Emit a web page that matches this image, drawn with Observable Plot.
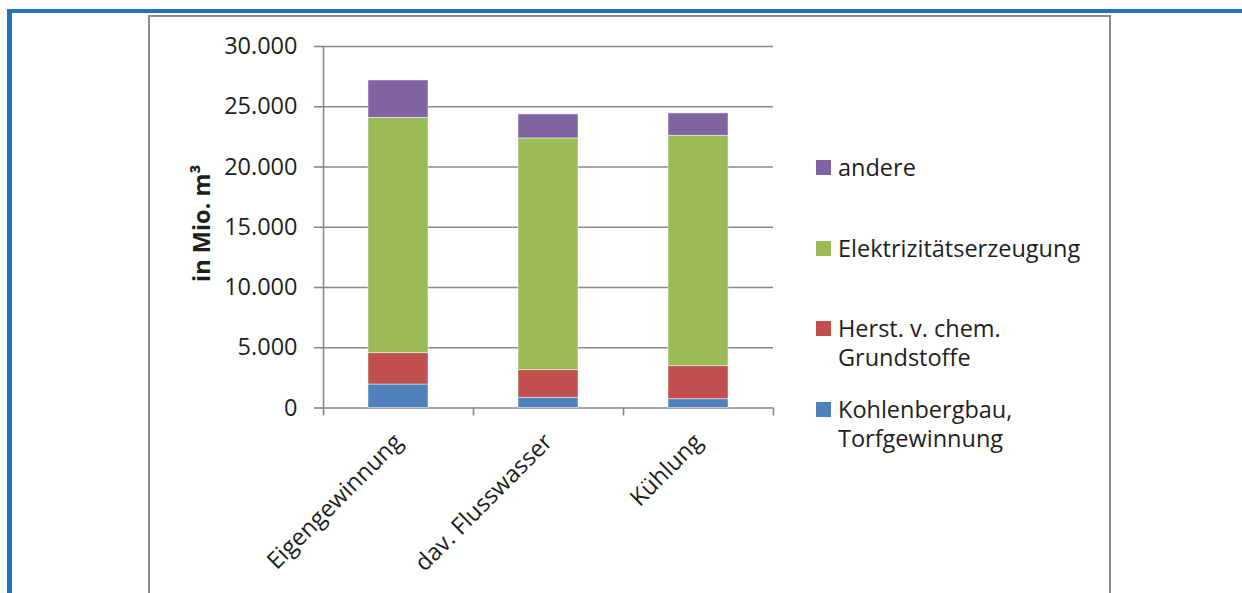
<!DOCTYPE html>
<html>
<head>
<meta charset="utf-8">
<script src="https://cdn.jsdelivr.net/npm/d3@7"></script>
<script src="https://cdn.jsdelivr.net/npm/@observablehq/plot@0.6"></script>
<style>
  html, body { margin: 0; padding: 0; background: #fff; overflow: hidden; }
  #wrap { position: relative; width: 1242px; height: 593px; font-family: "Open Sans", sans-serif; color: #1e1e1e; }
  #chart { position: absolute; left: 0; top: 0; }
  .blue { position: absolute; left: 7px; top: 9px; right: 0; bottom: 0; border-top: 4px solid #2672b6; border-left: 5px solid #2672b6; }
  .box { position: absolute; left: 148px; top: 15px; width: 959px; height: 580px; border: 2px solid #8c8c8c; border-bottom: none; }
  .legend { position: absolute; left: 816px; top: 0; font-size: 23.5px; line-height: 29px; }
  .item { position: absolute; left: 0; display: flex; align-items: flex-start; width: 300px; }
  .sw { width: 15px; height: 15px; margin-top: 7px; margin-right: 7px; flex: none; }
  .lbl { width: 265px; }
</style>
</head>
<body>
<div id="wrap">
  <div class="blue"></div>
  <div class="box"></div>
  <div id="chart"></div>
  <div class="legend" id="legend"></div>
</div>
<script>
// ---- data ----
const categories = ["Eigengewinnung", "dav. Flusswasser", "Kühlung"];
const series = ["Kohlenbergbau, Torfgewinnung", "Herst. v. chem. Grundstoffe", "Elektrizitätserzeugung", "andere"];
const kohle = [1950, 850, 730];
const chem = [2600, 2290, 2740];
const elektr = [19530, 19230, 19120];
const andere = [3100, 1990, 1860];
const colors = ["#4f81bd", "#c0504d", "#9bbb59", "#8064a2"];
const yTicks = [0, 5000, 10000, 15000, 20000, 25000, 30000];
const yLabel = "in Mio. m³";
const legendOrder = ["andere", "Elektrizitätserzeugung", "Herst. v. chem. Grundstoffe", "Kohlenbergbau, Torfgewinnung"];

const valuesBySeries = [kohle, chem, elektr, andere];
const rows = [];
categories.forEach((c, i) => {
  series.forEach((s, j) => rows.push({cat: c, i, series: s, value: valuesBySeries[j][i]}));
});

const de = d3.formatLocale({decimal: ",", thousands: ".", grouping: [3], currency: ["", " €"]});
const fmt = de.format(",");
const axisColor = "#888888";
const fs = 23.5;

const plot = Plot.plot({
  width: 1242,
  height: 593,
  marginLeft: 323,
  marginRight: 469,
  marginTop: 46,
  marginBottom: 185.5,
  style: {background: "transparent", fontFamily: "Open Sans, sans-serif", fontSize: fs + "px", color: "#1e1e1e"},
  x: {type: "linear", domain: [0, categories.length]},
  y: {domain: [0, 30000]},
  color: {domain: series, range: colors},
  marks: [
    Plot.ruleY(yTicks, {stroke: axisColor, strokeWidth: 1.6}),
    Plot.ruleX([0], {stroke: axisColor, strokeWidth: 1.6}),
    Plot.rectY(rows, Plot.stackY({order: series}, {
      x1: d => d.i + 0.3,
      x2: d => d.i + 0.7,
      y: "value",
      fill: "series",
      z: "series",
      stroke: "white",
      strokeOpacity: 0.6,
      strokeWidth: 0.8
    })),
    Plot.axisY({ticks: yTicks, tickFormat: fmt, tickSize: 9, tickPadding: 17, fontSize: fs, stroke: axisColor, strokeWidth: 1.6, fill: "#1e1e1e", label: null}),
    Plot.axisX({ticks: d3.range(categories.length + 1), tickFormat: () => "", tickSize: 8, stroke: axisColor, strokeWidth: 1.6, label: null}),
    Plot.axisX({ticks: categories.map((c, i) => i + 0.5), tickFormat: t => categories[Math.floor(t)], tickSize: 0, tickPadding: 30, tickRotate: -45, fontSize: fs, fill: "#1e1e1e", label: null}),
    Plot.text([yLabel], {frameAnchor: "left", dx: -121, dy: -4, rotate: -90, textAnchor: "middle", fontWeight: "bold", fontSize: fs, fill: "#1e1e1e"})
  ]
});
document.getElementById("chart").appendChild(plot);

// ---- legend ----
const legendTops = [153, 234, 314, 395];
const leg = document.getElementById("legend");
legendOrder.forEach((name, k) => {
  const it = document.createElement("div");
  it.className = "item";
  it.style.top = legendTops[k] + "px";
  const sw = document.createElement("div");
  sw.className = "sw";
  sw.style.background = colors[series.indexOf(name)];
  const lb = document.createElement("div");
  lb.className = "lbl";
  lb.textContent = name;
  it.appendChild(sw); it.appendChild(lb);
  leg.appendChild(it);
});
</script>
</body>
</html>
